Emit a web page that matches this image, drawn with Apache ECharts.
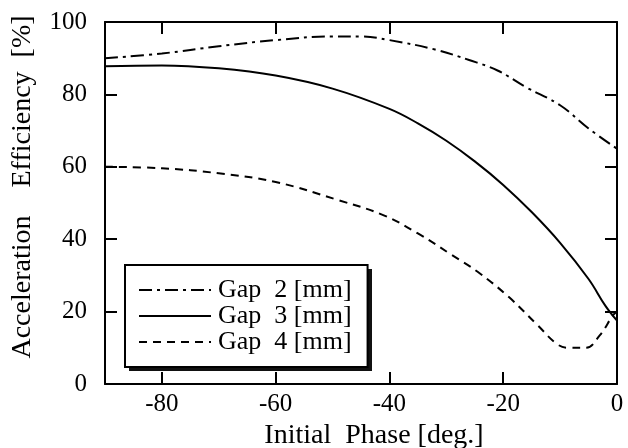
<!DOCTYPE html>
<html><head><meta charset="utf-8">
<script src="https://cdn.jsdelivr.net/npm/echarts@6/dist/echarts.min.js"></script>
<style>html,body{margin:0;padding:0;background:#fff}#c{width:628px;height:448px}</style>
</head><body><div id="c"></div>
<script>
const xTicks = [-80, -60, -40, -20, 0];
const yTicks = [0, 20, 40, 60, 80, 100];
const seriesNames = ['Gap  2 [mm]', 'Gap  3 [mm]', 'Gap  4 [mm]'];
const gap2 = [[-90,90],[-80,91.3],[-70,93.3],[-60,95],[-50,96],[-45,96],[-40,95],[-32,92.4],[-26,89.5],[-21,86.6],[-16,82],[-10,77],[-5,70.6],[0,65]];
const gap3 = [[-90,87.8],[-80,88],[-70,87.2],[-60,85.2],[-50,81.6],[-40,76],[-35,72],[-30,67.2],[-25,61.5],[-20,55],[-15,47.5],[-10,39],[-5,29],[-2,21.5],[0,17.5]];
const gap4 = [[-90,60],[-80,59.6],[-70,58.2],[-60,55.8],[-49,50.8],[-41,46.6],[-35,41.6],[-29,35.6],[-24.5,31],[-19,24],[-14,16.3],[-10.5,11],[-8.5,10],[-5.5,10],[-3,13.5],[-0.7,19],[0,20]];

const font = 'Liberation Serif';
const chart = echarts.init(document.getElementById('c'));
const axLine = {show:true, onZero:false, lineStyle:{color:'#000', width:2}};
const axTick = {show:true, inside:true, length:12, lineStyle:{color:'#000', width:2}};
chart.setOption({
  animation:false,
  backgroundColor:'#fff',
  grid:{left:105, right:11, top:22, bottom:64, outerBoundsMode:'none', containLabel:false},
  graphic:[{type:'rect', left:129, top:269, z:3, silent:true,
            shape:{width:243, height:102}, style:{fill:'#111'}}],
  legend:{
    orient:'vertical', left:125, top:265, width:260,
    data:seriesNames,
    itemWidth:72, itemHeight:14, itemGap:0,
    padding:[12,16,12,13],
    backgroundColor:'#fff', borderColor:'#000', borderWidth:2,
    itemStyle:{color:'rgba(0,0,0,0)', borderColor:'rgba(0,0,0,0)', borderWidth:0},
    textStyle:{fontFamily:font, fontSize:26, lineHeight:26, color:'#000', padding:[0,0,0,2]},
    selectedMode:false
  },
  xAxis:[
    {type:'value', min:-90, max:0, interval:10,
     name:'Initial  Phase [deg.]', nameLocation:'middle', nameGap:30,
     nameTextStyle:{fontFamily:font, fontSize:28, color:'#000', padding:[0,0,0,26]},
     axisLine:axLine, axisTick:Object.assign({}, axTick, {customValues:xTicks}),
     axisLabel:{fontFamily:font, fontSize:25, color:'#000', margin:8, customValues:xTicks},
     splitLine:{show:false}},
    {type:'value', min:-90, max:0, position:'top',
     axisLine:axLine, axisTick:Object.assign({}, axTick, {customValues:xTicks}),
     axisLabel:{show:false}, splitLine:{show:false}}
  ],
  yAxis:[
    {type:'value', min:0, max:100, interval:20,
     name:'Acceleration    Efficiency  [%]', nameLocation:'middle', nameGap:68,
     nameTextStyle:{fontFamily:font, fontSize:28, color:'#000', padding:[0,0,0,32]},
     axisLine:axLine, axisTick:axTick,
     axisLabel:{fontFamily:font, fontSize:25, color:'#000', margin:18},
     splitLine:{show:false}},
    {type:'value', min:0, max:100, interval:20, position:'right',
     axisLine:axLine, axisTick:axTick, axisLabel:{show:false}, splitLine:{show:false}}
  ],
  series:[
    {name:seriesNames[0], type:'line', data:gap2, smooth:0.4, symbol:'none',
     lineStyle:{color:'#000', width:2, type:[13,5,3,5]}, itemStyle:{color:'#000'}},
    {name:seriesNames[1], type:'line', data:gap3, smooth:0.4, symbol:'none',
     lineStyle:{color:'#000', width:2}, itemStyle:{color:'#000'}},
    {name:seriesNames[2], type:'line', data:gap4, smooth:0.4, symbol:'none',
     lineStyle:{color:'#000', width:2, type:[8,6]}, itemStyle:{color:'#000'}}
  ]
});
</script></body></html>
